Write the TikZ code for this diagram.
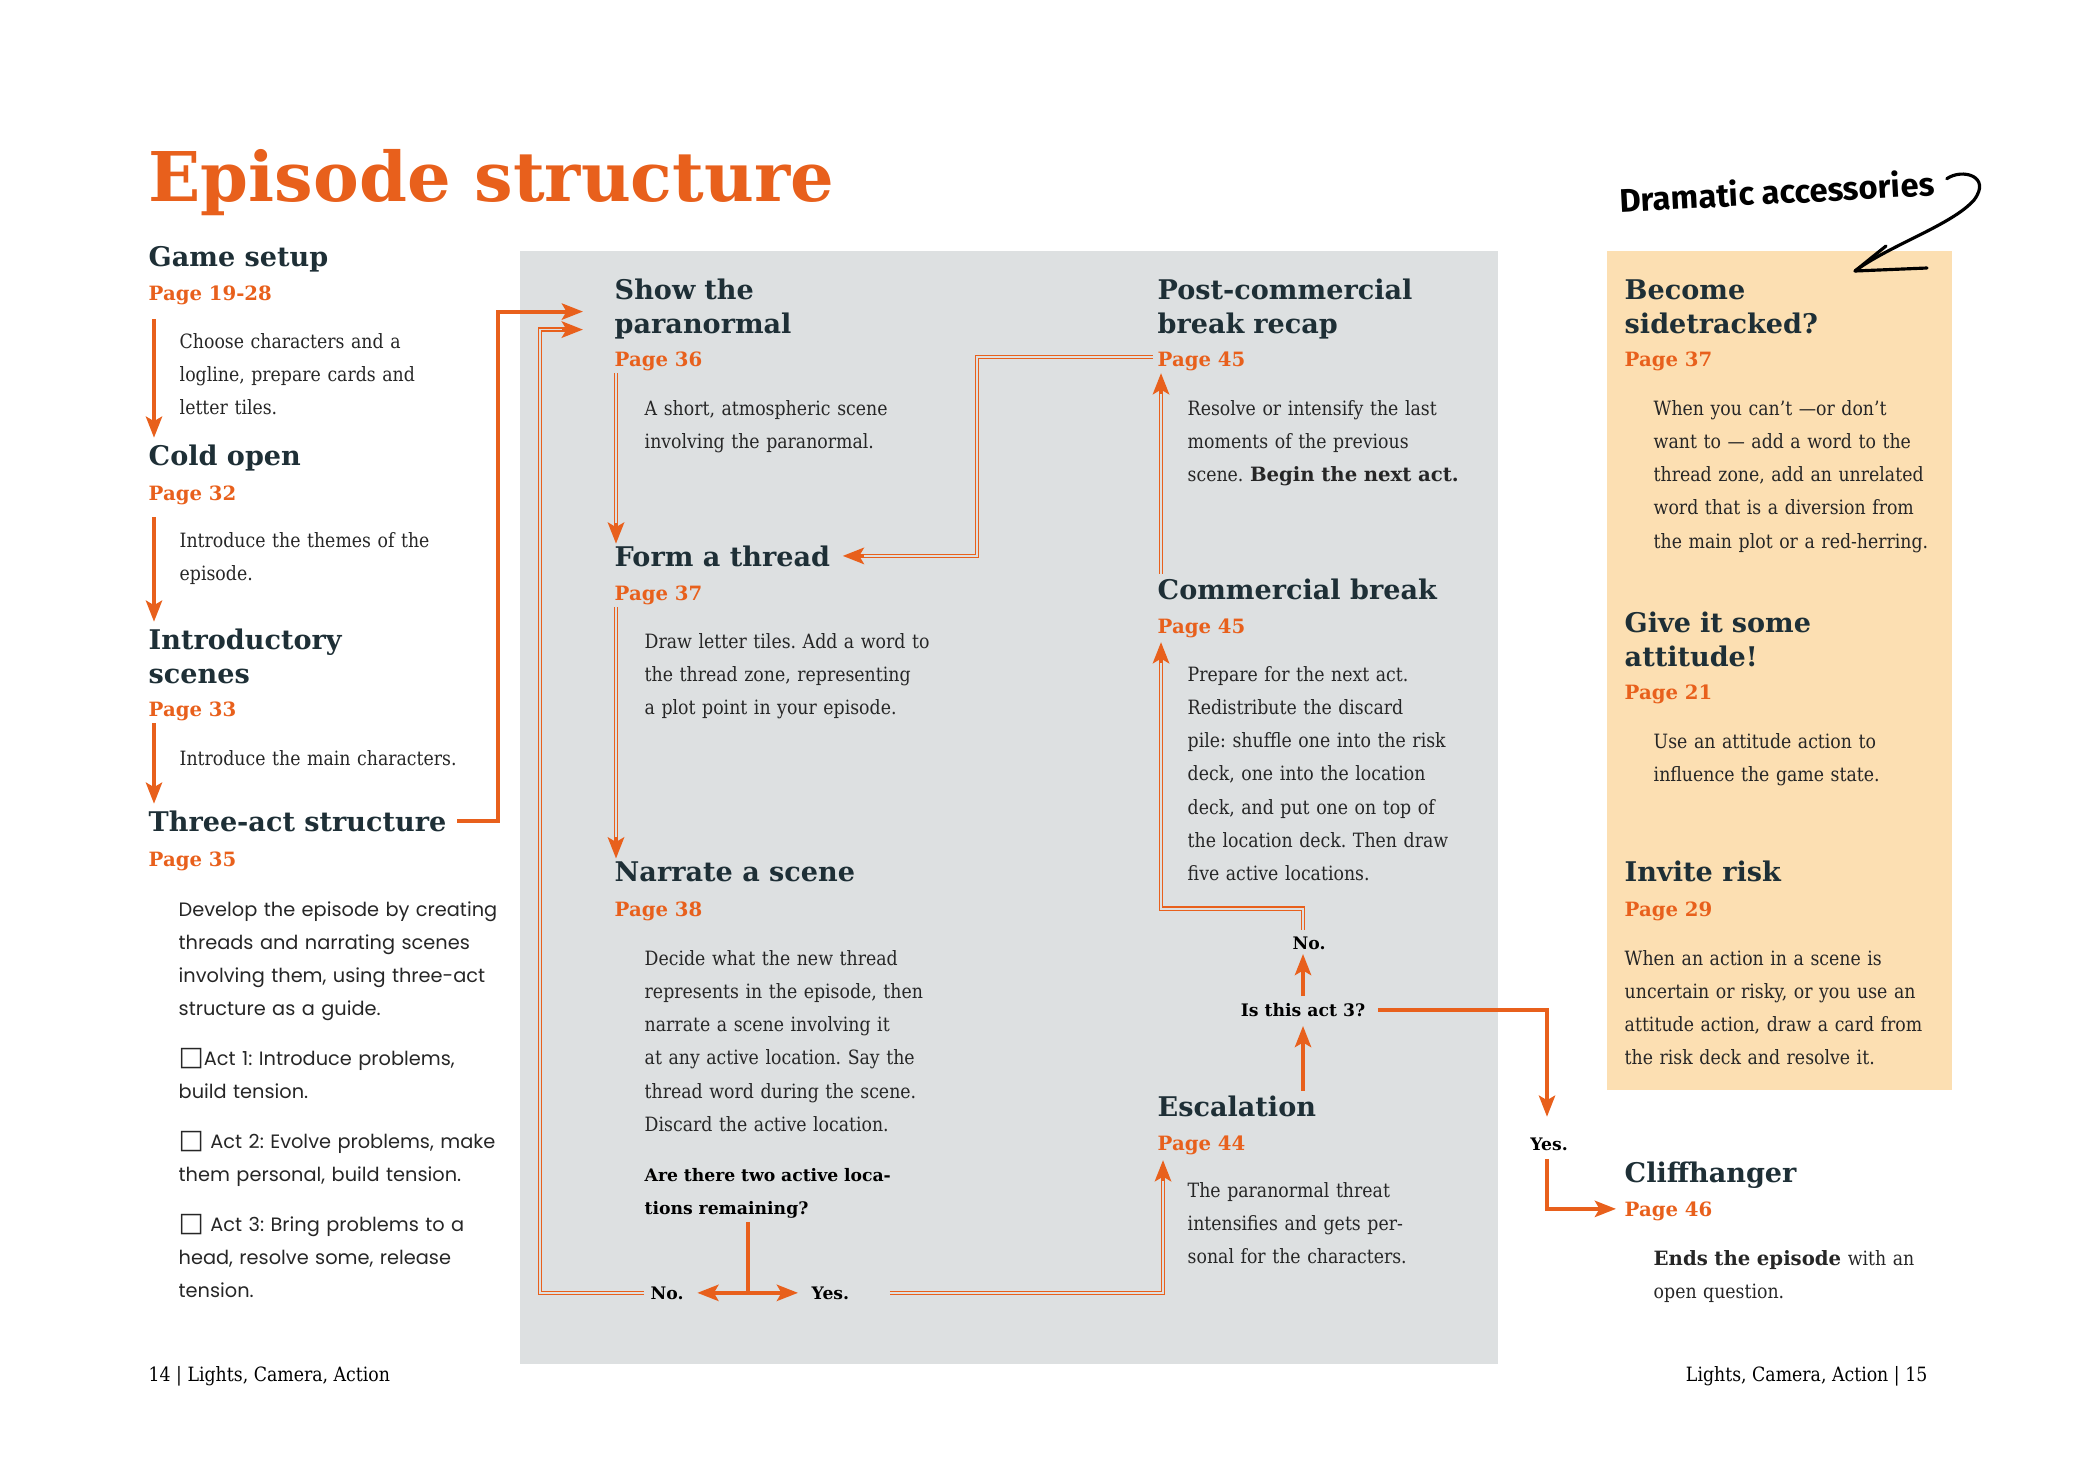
\documentclass[tikz,border=0pt]{standalone}
\usepackage{fontspec}
\usepackage{xcolor}
\usetikzlibrary{arrows.meta,positioning,calc}
\setmainfont{DejaVu Serif}[FakeStretch=0.88]
\newfontfamily\slabfont{DejaVu Serif}
\newfontfamily\titlefont{DejaVu Serif}[FakeStretch=1.0]
\newfontfamily\actfont{Poppins}
\newfontfamily\handfont{Fira Sans}
\newfontfamily\symfont{DejaVu Sans}
\definecolor{epiorange}{RGB}{232,96,28}
\definecolor{epislate}{RGB}{30,47,54}
\definecolor{epigrey}{RGB}{221,224,225}
\definecolor{episand}{RGB}{252,223,178}
\newcommand\cbox{{\symfont\fontsize{7.6}{9}\selectfont □}}
\frenchspacing
\tikzset{
  ehead/.style={font=\slabfont\bfseries\fontsize{7.7}{9.7}\selectfont, text=epislate, align=left},
  epage/.style={font=\slabfont\bfseries\fontsize{5.6}{6.5}\selectfont, text=epiorange},
  ebody/.style={font=\fontsize{5.6}{9.47}\selectfont, text=black!85, align=left, text width=3.4cm},
  eact/.style={font=\actfont\fontsize{5.5}{9.47}\selectfont, text=black!85, align=left, text width=3.5cm},
  elab/.style={font=\slabfont\bfseries\fontsize{4.9}{9.47}\selectfont, text=black},
  oarr/.style={-{Stealth[length=6pt,width=4.6pt,inset=1.3pt]}, line width=1.1pt, draw=epiorange},
  obi/.style={oarr, {Stealth[length=6pt,width=4.6pt,inset=1.3pt]}-{Stealth[length=6pt,width=4.6pt,inset=1.3pt]}},
  odbl/.style={-{Stealth[length=6pt,width=4.6pt,inset=1.3pt]}, line width=1.3pt, draw=epiorange,
               postaction={draw=epigrey, line width=0.45pt, -, shorten >=6pt}},
}

\begin{document}
\begin{tikzpicture}[x=0.01cm, y=-0.01cm, every node/.style={inner sep=0pt, anchor=base west}]
  \useasboundingbox (0,0) rectangle (2079,1476);
  % panels
  \fill[epigrey] (520,251) rectangle (1498,1364);
  \fill[episand] (1607,251) rectangle (1952,1090);
  \node[font=\titlefont\bfseries\fontsize{19.5}{24}\selectfont, text=epiorange] (t) at (148,202) {Episode structure};
  % left column
  \node[ehead] (gs) at (148,266) {Game setup};
  \node[epage] (gsp) at (148,300) {Page 19-28};
  \node[ebody] (gsb) at (179,348) {Choose characters and a\\logline, prepare cards and\\letter tiles.};
  \node[ehead] (co) at (148,465) {Cold open};
  \node[epage] (cop) at (148,500) {Page 32};
  \node[ebody] (cob) at (179,547) {Introduce the themes of the\\episode.};
  \node[ehead, text width=4cm] (is) at (148,649) {Introductory\\scenes};
  \node[epage] (isp) at (148,716) {Page 33};
  \node[ebody] (isb) at (179,765) {Introduce the main characters.};
  \node[ehead] (ta) at (148,831) {Three-act structure};
  \node[epage] (tap) at (148,866) {Page 35};
  \node[eact] (tab) at (178,916) {Develop the episode by creating\\threads and narrating scenes\\involving them, using three-act\\structure as a guide.};
  \node[eact] (act1) at (178,1065) {\cbox Act 1: Introduce problems,\\build tension.};
  \node[eact] (act2) at (178,1148) {\cbox\ Act 2: Evolve problems, make\\them personal, build tension.};
  \node[eact] (act3) at (178,1231) {\cbox\ Act 3: Bring problems to a\\head, resolve some, release\\tension.};
  % middle column
  \node[ehead, text width=4cm] (sp) at (614,299) {Show the\\paranormal};
  \node[epage] (spp) at (614,366) {Page 36};
  \node[ebody] (spb) at (644,415) {A short, atmospheric scene\\involving the paranormal.};
  \node[ehead] (ft) at (614,566) {Form a thread};
  \node[epage] (ftp) at (614,600) {Page 37};
  \node[ebody] (ftb) at (644,648) {Draw letter tiles. Add a word to\\the thread zone, representing\\a plot point in your episode.};
  \node[ehead] (ns) at (614,881) {Narrate a scene};
  \node[epage] (nsp) at (614,916) {Page 38};
  \node[ebody] (nsb) at (644,965) {Decide what the new thread\\represents in the episode, then\\narrate a scene involving it\\at any active location. Say the\\thread word during the scene.\\Discard the active location.};
  \node[elab, text width=3cm, align=left] (q2) at (644,1181) {Are there two active loca-\\tions remaining?};
  \node[elab] (no2) at (650,1299) {No.};
  \node[elab] (yes2) at (811,1299) {Yes.};
  \coordinate (br) at (748,1292);
  % right-middle column
  \node[ehead, text width=4cm] (pc) at (1157,299) {Post-commercial\\break recap};
  \node[epage] (pcp) at (1157,366) {Page 45};
  \node[ebody] (pcb) at (1187,415) {Resolve or intensify the last\\moments of the previous\\scene. {\slabfont\bfseries Begin the next act.}};
  \node[ehead] (cb) at (1157,599) {Commercial break};
  \node[epage] (cbp) at (1157,633) {Page 45};
  \node[ebody] (cbb) at (1187,681) {Prepare for the next act.\\Redistribute the discard\\pile: shuffle one into the risk\\deck, one into the location\\deck, and put one on top of\\the location deck. Then draw\\five active locations.};
  \node[elab, anchor=base] (n3no) at (1309,949) {No.};
  \node[elab, anchor=base] (q3) at (1303,1016) {Is this act 3?};
  \node[ehead] (es) at (1157,1116) {Escalation};
  \node[epage] (esp) at (1157,1150) {Page 44};
  \node[ebody] (esb) at (1187,1197) {The paranormal threat\\intensifies and gets per-\\sonal for the characters.};
  \node[elab, anchor=base] (y3) at (1549,1150) {Yes.};
  % accessories column
  \node[font=\handfont\bfseries\fontsize{9.3}{11}\selectfont, rotate=3, anchor=center] (da) at (1777,191) {Dramatic accessories};
  \node[ehead, text width=4cm] (bs) at (1624,299) {Become\\sidetracked?};
  \node[epage] (bsp) at (1624,366) {Page 37};
  \node[ebody] (bsb) at (1653,415) {When you can’t —or don’t\\want to — add a word to the\\thread zone, add an unrelated\\word that is a diversion from\\the main plot or a red-herring.};
  \node[ehead, text width=4cm] (ga) at (1624,632) {Give it some\\attitude!};
  \node[epage] (gap) at (1624,699) {Page 21};
  \node[ebody] (gab) at (1653,748) {Use an attitude action to\\influence the game state.};
  \node[ehead] (ir) at (1624,881) {Invite risk};
  \node[epage] (irp) at (1624,916) {Page 29};
  \node[ebody] (irb) at (1624,965) {When an action in a scene is\\uncertain or risky, or you use an\\attitude action, draw a card from\\the risk deck and resolve it.};
  \node[ehead] (ch) at (1624,1182) {Cliffhanger};
  \node[epage] (chp) at (1624,1216) {Page 46};
  \node[ebody] (chb) at (1653,1265) {{\slabfont\bfseries Ends the episode} with an\\open question.};
  % footer
  \node[font=\fontsize{5.6}{7}\selectfont] (f1) at (148,1381) {14 | Lights, Camera, Action};
  \node[font=\fontsize{5.6}{7}\selectfont, anchor=base east] (f2) at (1928,1381) {Lights, Camera, Action | 15};
  % connectors
  \draw[oarr]([shift={(6,14)}]gsp.south west)--([shift={(6,-6)}]co.north west);
  \draw[oarr]([shift={(6,12)}]cop.south west)--([shift={(6,-6)}]is.north west);
  \draw[oarr]([shift={(6,2)}]isp.south west)--([shift={(6,-6)}]ta.north west);
  \draw[oarr]([shift={(10,0)}]ta.east)--++(41,0)|-([shift={(-31,3)}]sp.west);
  \draw[odbl]([shift={(2,2)}]spp.south west)--([shift={(2,-1)}]ft.north west);
  \draw[odbl]([shift={(2,2)}]ftp.south west)--([shift={(2,-2)}]ns.north west);
  \draw[epiorange, line width=1.1pt]($(q2.south -| br)+(0,3)$)--(br);
  \draw[obi]([shift={(13,0)}]no2.east)--([shift={(-13,0)}]yes2.west);
  \draw[odbl]([shift={(-6,0)}]no2.west)-|([shift={(-74,21)}]sp.west)--([shift={(-31,21)}]sp.west);
  \draw[odbl]([shift={(40,0)}]yes2.east)-|([shift={(6,5)}]esp.south west);
  \draw[oarr]($(es.north -| q3.south)+(0,-4)$)--([shift={(0,9)}]q3.south);
  \draw[oarr]($(q3.north)+(0,-6)$)--($(q3.north |- n3no.south)+(0,4)$);
  \draw[odbl]($(q3.north |- n3no.north)+(0,-6)$)--++(0,-21)-|([shift={(4,4)}]cbp.south west);
  \draw[odbl]([shift={(4,-4)}]cb.north west)--([shift={(4,2)}]pcp.south west);
  \draw[odbl]([shift={(-4,-4)}]pcp.west)--++(-176,0)|-([shift={(12,0)}]ft.east);
  \draw[oarr]([shift={(12,0)}]q3.east)-|([shift={(-2,-20)}]y3.north);
  \draw[oarr]([shift={(-2,8)}]y3.south)|-([shift={(-8,-2)}]chp.west);
  % curly pointer
  \coordinate (datip) at (1855,271);
  \draw[line width=0.9pt, line cap=round]([shift={(12,-4)}]da.east) .. controls (1962,168) and (1992,176) .. (1974,200) .. controls (1952,225) and (1890,245) .. (datip);
  \draw[line width=0.9pt, line cap=round](datip)--(1886,246) (datip)--(1927,268);
\end{tikzpicture}
\end{document}
